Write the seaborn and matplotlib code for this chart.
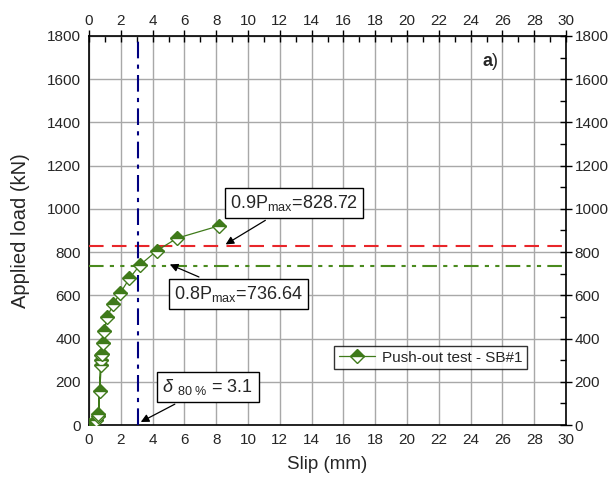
import numpy as np
import pandas as pd
import matplotlib
matplotlib.use("Agg")
import matplotlib.pyplot as plt
from matplotlib.ticker import MultipleLocator
import seaborn as sns

# Push-out test SB#1: measured slip (mm) and applied load (kN)
slip = [0.0, 0.41, 0.56, 0.69, 0.73, 0.56, 0.75, 0.59, 0.77, 0.80,
        0.86, 0.94, 1.14, 1.53, 1.96, 2.54, 3.20, 4.26, 5.53, 8.15]
load = [0.0, 25.0, 40.0, 158.0, 324.0, 45.0, 302.0, 50.0, 277.0, 329.0,
        378.0, 433.0, 499.0, 560.0, 610.0, 678.0, 740.0, 806.0, 864.0, 920.8]

p90 = 828.72     # 0.9 Pmax
p80 = 736.64     # 0.8 Pmax
delta80 = 3.1    # slip at 0.8 Pmax

x_ticks = list(range(0, 31, 2))
y_ticks = list(range(0, 1801, 200))

sns.set_style("white")
plt.rcParams["font.family"] = ["Liberation Sans", "DejaVu Sans"]
plt.rcParams["mathtext.fontset"] = "custom"
plt.rcParams["mathtext.rm"] = "Liberation Sans"
plt.rcParams["mathtext.it"] = "Liberation Sans:italic"

df = pd.DataFrame({"Slip (mm)": slip, "Applied load (kN)": load})

fig = plt.figure(figsize=(6.16, 4.87), dpi=100)
ax = fig.add_axes([0.1445, 0.1273, 0.7745, 0.799])

green = "#3f7a1a"
sns.lineplot(data=df, x="Slip (mm)", y="Applied load (kN)", sort=False,
             color=green, lw=0.9, marker="D", markersize=7.5,
             markeredgecolor=green, markerfacecolor=green,
             markerfacecoloralt="white", fillstyle="top",
             markeredgewidth=1.0, label="Push-out test - SB#1", ax=ax,
             zorder=5)

ax.axhline(p90, color="#e8262a", lw=1.5, dashes=(7, 4), zorder=3)
ax.axhline(p80, color="#4a8a1e", lw=1.5, dashes=(7, 3, 2, 3, 2, 3), zorder=3)
ax.axvline(delta80, color="#000080", lw=1.5, dashes=(8, 3, 2, 3), zorder=3)

ax.set_xlim(0, 30)
ax.set_ylim(0, 1800)
ax.set_xticks(x_ticks)
ax.set_yticks(y_ticks)
ax.xaxis.set_minor_locator(MultipleLocator(1))
ax.yaxis.set_minor_locator(MultipleLocator(100))
ax.grid(True, which="major", color="#a8a8a8", lw=1.0, zorder=0)
ax.set_axisbelow(True)

ax.tick_params(which="both", top=True, right=True,
               labeltop=True, labelright=True, labelsize=11, width=1.0,
               color="black")
ax.tick_params(which="major", direction="inout", length=8, pad=2)
ax.tick_params(which="minor", direction="in", length=4)
for s in ax.spines.values():
    s.set_color("black")
    s.set_linewidth(1.2)

ax.set_xlabel("Slip (mm)", fontsize=13.5, labelpad=6)
ax.set_ylabel("Applied load (kN)", fontsize=14.5, labelpad=12)

box = dict(boxstyle="square,pad=0.3", fc="white", ec="black", lw=1.0)
arrow = dict(arrowstyle="-|>", color="black", lw=0.9, mutation_scale=12)

ax.annotate(r"0.9P$_{\mathrm{max}}$=828.72", xy=(8.44, p90),
            xytext=(8.87, 1027), fontsize=13, ha="left", va="center",
            bbox=box, arrowprops=arrow, zorder=10)
ax.annotate(r"0.8P$_{\mathrm{max}}$=736.64", xy=(4.92, 748),
            xytext=(5.35, 606), fontsize=13, ha="left", va="center",
            bbox=box, arrowprops=arrow, zorder=10)
ax.annotate(r"$\delta$ $_{\mathrm{80\ \%}}$ = 3.1", xy=(3.1, 8),
            xytext=(4.6, 176), fontsize=13, ha="left", va="center",
            bbox=box, arrowprops=arrow, zorder=10)

ax.text(0.824, 0.934, "a", transform=ax.transAxes, fontsize=13,
        fontweight="bold", ha="left", va="center")
ax.text(0.844, 0.934, ")", transform=ax.transAxes, fontsize=13,
        ha="left", va="center")

leg = ax.legend(loc="upper left", bbox_to_anchor=(0.514, 0.203),
                fontsize=11, frameon=True, fancybox=False,
                borderpad=0.3, handlelength=2.4, handletextpad=0.4,
                borderaxespad=0)
leg.get_frame().set_edgecolor("black")
leg.get_frame().set_linewidth(1.0)

fig.savefig("out.png", dpi=100)
